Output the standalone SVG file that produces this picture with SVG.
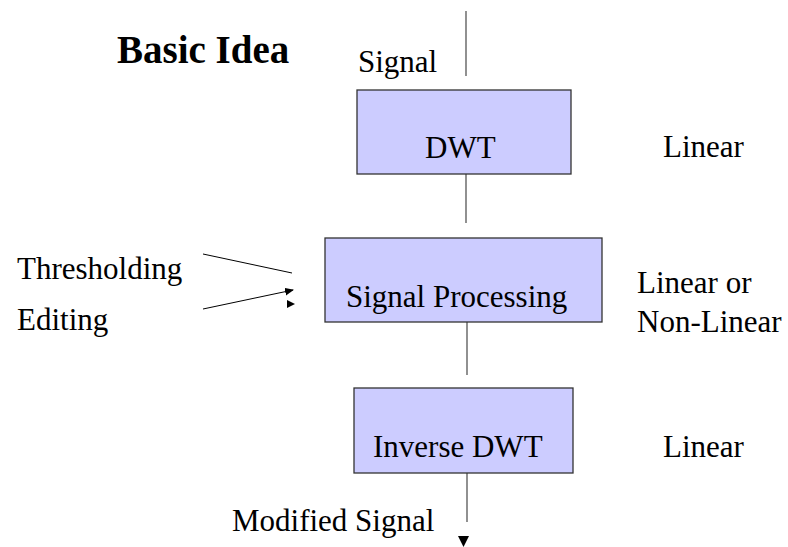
<svg xmlns="http://www.w3.org/2000/svg" width="788" height="547" viewBox="0 0 788 547">
<style>
text{font-family:"Liberation Serif","Times New Roman",serif;font-size:31px;fill:#000}
.box{fill:#ccccff;stroke:#333;stroke-width:1.3}
.ln{stroke:#555;stroke-width:1.3;fill:none}
.thin{stroke:#000;stroke-width:1;fill:none}
</style>
<defs>
<marker id="ah" markerWidth="10" markerHeight="10" refX="8" refY="4" orient="auto" markerUnits="userSpaceOnUse">
<path d="M0,0 L9,4 L0,8 Z" fill="#000"/>
</marker>
</defs>
<rect width="788" height="547" fill="#fff"/>
<text x="117" y="63" style="font-size:39px;font-weight:bold">Basic Idea</text>
<text x="358" y="72">Signal</text>
<g id="connectors">
<line class="ln" x1="466" y1="11" x2="466" y2="76"/>
<line class="ln" x1="466" y1="174" x2="466" y2="223"/>
<line class="ln" x1="467" y1="322" x2="467" y2="375"/>
<line class="ln" x1="467" y1="473" x2="467" y2="522"/>
<path d="M458,536 L469,536 L463.5,547 Z" fill="#000"/>
<line class="thin" x1="203" y1="254" x2="292" y2="273"/>
<line class="thin" x1="203" y1="309" x2="293" y2="290" marker-end="url(#ah)"/>
<path d="M287,300 L295,304 L287,308 Z" fill="#000"/>
</g>
<g id="dwt">
<rect class="box" x="357" y="90" width="214" height="84"/>
<text x="425" y="158">DWT</text>
</g>
<g id="sp">
<rect class="box" x="325" y="238" width="277" height="84"/>
<text x="346" y="307">Signal Processing</text>
</g>
<g id="idwt">
<rect class="box" x="354" y="388" width="219" height="85"/>
<text x="373" y="457">Inverse DWT</text>
</g>
<text x="663" y="157">Linear</text>
<text x="17" y="279">Thresholding</text>
<text x="17" y="330">Editing</text>
<text x="637" y="293">Linear or</text>
<text x="637" y="332">Non-Linear</text>
<text x="663" y="457">Linear</text>
<text x="232" y="531">Modified Signal</text>
</svg>
